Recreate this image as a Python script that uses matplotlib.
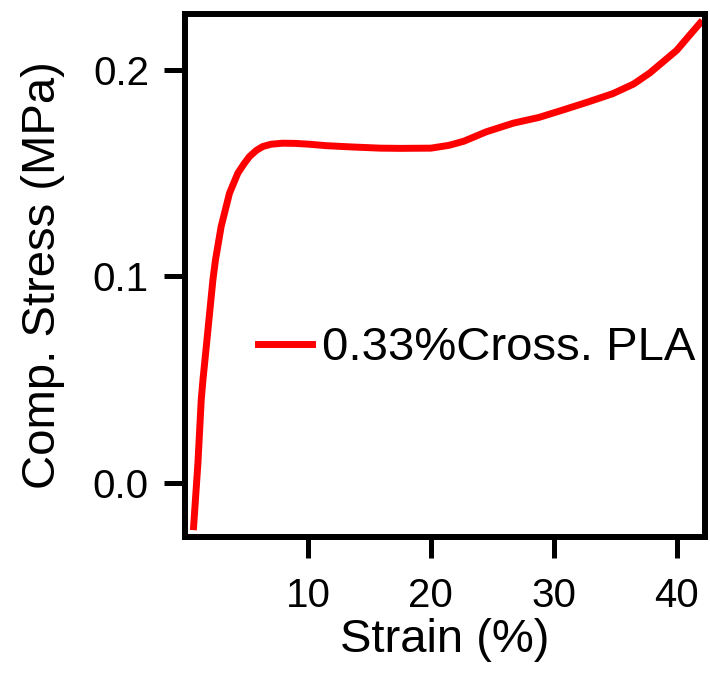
import matplotlib
matplotlib.use('Agg')
import matplotlib.pyplot as plt

# Data
strain = [0.7, 1.05, 1.32, 1.46, 1.73, 2.0, 2.27, 2.48, 2.94, 3.62, 4.3, 4.8, 5.24,
          5.8, 6.33, 7.0, 7.95, 9.0, 10.1, 11.5, 13.5, 15.9, 17.5, 20.0, 21.5, 22.7,
          24.5, 26.7, 28.8, 30.8, 32.8, 34.8, 36.5, 37.8, 39.0, 40.0, 41.0, 41.9]
stress = [-0.0213, 0.0094, 0.0401, 0.0498, 0.0659, 0.0821, 0.0983, 0.108, 0.1241,
          0.1403, 0.1500, 0.1545, 0.158, 0.1610, 0.1629, 0.1640, 0.1645, 0.1644,
          0.1640, 0.1633, 0.1627, 0.1621, 0.1620, 0.1621, 0.1635, 0.1655, 0.170,
          0.1742, 0.177, 0.1807, 0.1845, 0.1885, 0.1932, 0.1985, 0.2045, 0.2095,
          0.2165, 0.2227]
series_label = '0.33%Cross. PLA'
x_ticks = [10, 20, 30, 40]
y_ticks = [0.0, 0.1, 0.2]
y_tick_labels = ['0.0', '0.1', '0.2']

plt.rcParams['font.family'] = ['Liberation Sans', 'DejaVu Sans']

fig = plt.figure(figsize=(7.1, 6.76), dpi=100)
ax = fig.add_axes([185 / 710, 1 - 537 / 676, 520 / 710, 523 / 676])

ax.plot(strain, stress, color='#ff0000', lw=5, label=series_label,
        solid_joinstyle='round')

ax.set_xlim(0, 42.3)
ax.set_ylim(-0.0263, 0.2271)
ax.set_xticks(x_ticks)
ax.set_yticks(y_ticks)
ax.set_yticklabels(y_tick_labels)

for sp in ax.spines.values():
    sp.set_linewidth(4.3)
ax.tick_params(axis='both', direction='out', length=15, width=3.6, labelsize=29)
ax.tick_params(axis='x', pad=14)
ax.tick_params(axis='y', pad=11)

ax.set_xlabel('Strain (%)', fontsize=34, labelpad=2)
ax.set_ylabel('Comp. Stress (MPa)', fontsize=34, labelpad=20)

ax.legend(loc='center left', bbox_to_anchor=(0.14, 0.361), frameon=False,
          fontsize=34, handlelength=1.15, handletextpad=0.2,
          borderpad=0, borderaxespad=0)

fig.savefig('out.png', dpi=100)
